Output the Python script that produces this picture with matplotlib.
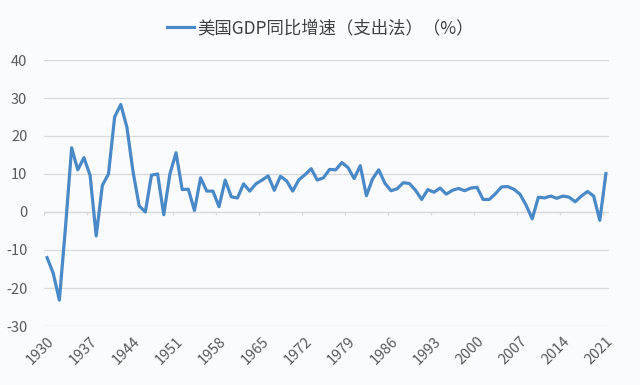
import matplotlib.pyplot as plt
from matplotlib.lines import Line2D

plt.rcParams['font.family'] = ['Noto Sans CJK SC', 'DejaVu Sans']
plt.rcParams['axes.unicode_minus'] = False

years = list(range(1930, 2022))
growth = [
    -12.0, -16.1, -23.2, -4.0, 16.9, 11.1, 14.3, 9.7, -6.3, 7.0,
    10.0, 25.0, 28.3, 22.3, 10.6, 1.6, 0.0, 9.7, 10.0, -0.7,
    10.0, 15.6, 5.9, 6.0, 0.4, 9.0, 5.5, 5.5, 1.4, 8.4,
    4.0, 3.7, 7.4, 5.5, 7.4, 8.4, 9.5, 5.7, 9.4, 8.2,
    5.5, 8.5, 9.8, 11.4, 8.4, 9.0, 11.2, 11.1, 13.0, 11.7,
    8.8, 12.2, 4.3, 8.7, 11.1, 7.6, 5.6, 6.1, 7.7, 7.5,
    5.7, 3.3, 5.9, 5.2, 6.3, 4.7, 5.7, 6.2, 5.6, 6.3,
    6.5, 3.3, 3.3, 4.8, 6.6, 6.7, 6.0, 4.7, 1.8, -1.8,
    3.9, 3.7, 4.2, 3.6, 4.2, 3.9, 2.7, 4.2, 5.4, 4.2,
    -2.2, 10.1,
]
label = '美国GDP同比增速（支出法）（%）'

bg = '#fafbfd'
line_color = '#4a89c8'
grid_color = '#d9d9d9'
text_color = '#595959'

fig = plt.figure(figsize=(6.4, 3.85), dpi=100, facecolor=bg)
ax = fig.add_axes([44 / 640, 1 - 326 / 385, (609 - 44) / 640, (326 - 60) / 385])
ax.set_facecolor(bg)

x = list(range(len(years)))
ax.plot(x, growth, color=line_color, lw=2.3, solid_joinstyle='round', zorder=3)

ax.set_xlim(-0.5, len(years) - 0.5)
ax.set_ylim(-30, 40)
ax.set_yticks(range(-30, 41, 10))
ax.yaxis.grid(True, color=grid_color, lw=0.9)
ax.set_axisbelow(True)
for s in ax.spines.values():
    s.set_visible(False)
ax.tick_params(axis='y', length=0, pad=12, labelsize=10.5, labelcolor=text_color)

# category labels every 7 years
lab_idx = list(range(0, len(years), 7))
ax.set_xticks(lab_idx)
ax.set_xticklabels([str(years[i]) for i in lab_idx], rotation=45, ha='right',
                   rotation_mode='anchor', fontsize=10.5, color=text_color)
ax.tick_params(axis='x', length=0, pad=6)

# axis line at zero with tick marks between categories
ax.axhline(0, color=grid_color, lw=0.9, zorder=1)
tick_pos = [i - 0.5 for i in lab_idx]
ax.vlines(tick_pos, -0.9, 0, color=grid_color, lw=0.9, zorder=1)

handle = Line2D([], [], color=line_color, lw=2.3)
fig.legend([handle], [label], loc='upper center', bbox_to_anchor=(0.5, 0.99),
           frameon=False, fontsize=12.5, handlelength=1.6, handletextpad=0.15,
           labelcolor='#404040')

fig.savefig('out.png', dpi=100, facecolor=bg)
